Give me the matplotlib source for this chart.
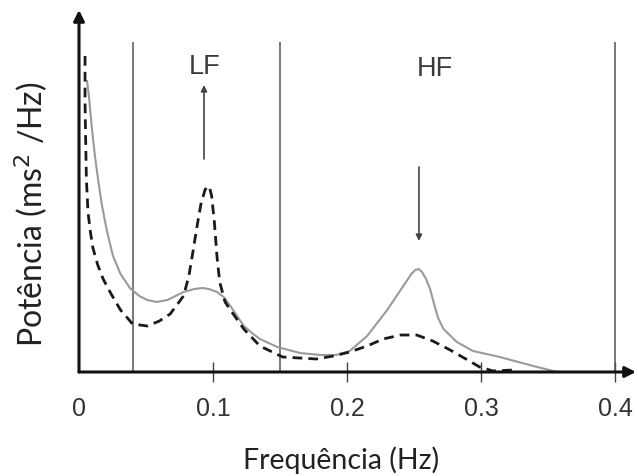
import matplotlib
matplotlib.use("Agg")
import matplotlib.pyplot as plt

# --- data (frequency in Hz, power in arbitrary units) ---
solid_f = [0.006, 0.0075, 0.0095, 0.0119, 0.0145, 0.0172, 0.021, 0.0254, 0.031, 0.038,
           0.045, 0.051, 0.058, 0.066, 0.078, 0.086, 0.092, 0.097, 0.103, 0.108, 0.113,
           0.118, 0.123, 0.130, 0.135, 0.148, 0.165, 0.180, 0.192, 0.202, 0.215, 0.230,
           0.238, 0.244, 0.248, 0.251, 0.2535, 0.256, 0.259, 0.262, 0.265, 0.268, 0.272,
           0.282, 0.294, 0.314, 0.339, 0.357]
solid_p = [291, 275, 245, 216, 190, 166, 140, 116, 98, 84,
           76, 72, 70, 72, 80, 83, 84, 83, 80, 75, 66,
           56, 46, 38, 33, 25, 19, 17, 17, 21, 36, 62,
           78, 90, 98, 102, 103, 100, 93, 83, 68, 54, 43,
           30, 21, 15, 6, 0]

dash_f = [0.0045, 0.0045, 0.005, 0.0055, 0.0067, 0.0085, 0.0104, 0.014, 0.018, 0.024,
          0.031, 0.040, 0.051, 0.060, 0.068, 0.078, 0.082, 0.085, 0.088, 0.091, 0.094,
          0.096, 0.0975, 0.099, 0.101, 0.103, 0.105, 0.109, 0.113, 0.123, 0.135, 0.152,
          0.177, 0.190, 0.202, 0.215, 0.227, 0.240, 0.252, 0.264, 0.277, 0.290, 0.299,
          0.309, 0.324]
dash_p = [316, 270, 230, 193, 160, 140, 124, 107, 93, 78,
          62, 48, 46, 51, 58, 76, 96, 120, 145, 168, 182,
          186, 184, 176, 150, 115, 90, 70, 62, 43, 26, 15,
          13, 16, 20, 26, 33, 37, 37, 31, 22, 12, 5,
          1, 2]

band_lines = [0.04, 0.15, 0.4]
xticks = [0, 0.1, 0.2, 0.3, 0.4]
xticklabels = ["0", "0.1", "0.2", "0.3", "0.4"]

W, H = 638, 477
fig = plt.figure(figsize=(W / 100, H / 100), dpi=100)
x0, xend, ybase, ytop = 79, 636, 373, 11
ax = fig.add_axes([x0 / W, (H - ybase) / H, (xend - x0) / W, (ybase - ytop) / H])
ax.set_xlim(0, (xend - x0) / 1340)
ax.set_ylim(0, ybase - ytop)

for s in ax.spines.values():
    s.set_visible(False)

# axes with arrows
ax.annotate("", xy=(0, 1), xytext=(0, 0), xycoords="axes fraction",
            arrowprops=dict(arrowstyle="-|>", color="#111111", lw=2.2,
                            mutation_scale=16, shrinkA=0, shrinkB=0), annotation_clip=False)
ax.annotate("", xy=(1, 0), xytext=(0, 0), xycoords="axes fraction",
            arrowprops=dict(arrowstyle="-|>", color="#111111", lw=2.2,
                            mutation_scale=16, shrinkA=0, shrinkB=0), annotation_clip=False)

ax.vlines(band_lines, 0, 330, color="#555555", lw=1.1)

ax.plot(solid_f, solid_p, color="#9a9a9a", lw=1.5, solid_joinstyle="round")
ax.plot(dash_f, dash_p, color="#1a1a1a", lw=2.0, dashes=(3.5, 2.2))

ax.set_xticks(xticks)
ax.set_xticklabels(xticklabels, fontfamily="Liberation Sans", fontsize=18, color="#333333")
ax.tick_params(axis="x", direction="inout", length=15, width=1, color="#444444", pad=10)
ax.xaxis.get_major_ticks()[0].tick1line.set_visible(False)
ax.set_yticks([])

# band labels and arrows
ax.text(0.094, 306, "LF", ha="center", va="center", fontsize=19.5,
        fontfamily="Liberation Sans", color="#3a3a3a")
ax.text(0.2653, 304, "HF", ha="center", va="center", fontsize=19.5,
        fontfamily="Liberation Sans", color="#3a3a3a")
ax.annotate("", xy=(0.0933, 287), xytext=(0.0933, 213),
            arrowprops=dict(arrowstyle="-|>", color="#444444", lw=1.2,
                            mutation_scale=9, shrinkA=0, shrinkB=0))
ax.annotate("", xy=(0.2537, 131), xytext=(0.2537, 205),
            arrowprops=dict(arrowstyle="-|>", color="#444444", lw=1.2,
                            mutation_scale=9, shrinkA=0, shrinkB=0))

fig.text(341 / W, 1 - 460 / H, "Frequência (Hz)", ha="center", va="center",
         fontsize=20.5, fontfamily="Lato", color="#222222")
fig.text(31 / W, 1 - 214 / H, "Potência (ms$^2$ /Hz)", ha="center", va="center",
         rotation=90, fontsize=23, fontfamily="Lato", color="#222222")

fig.savefig("out.png", dpi=100, facecolor="white")
